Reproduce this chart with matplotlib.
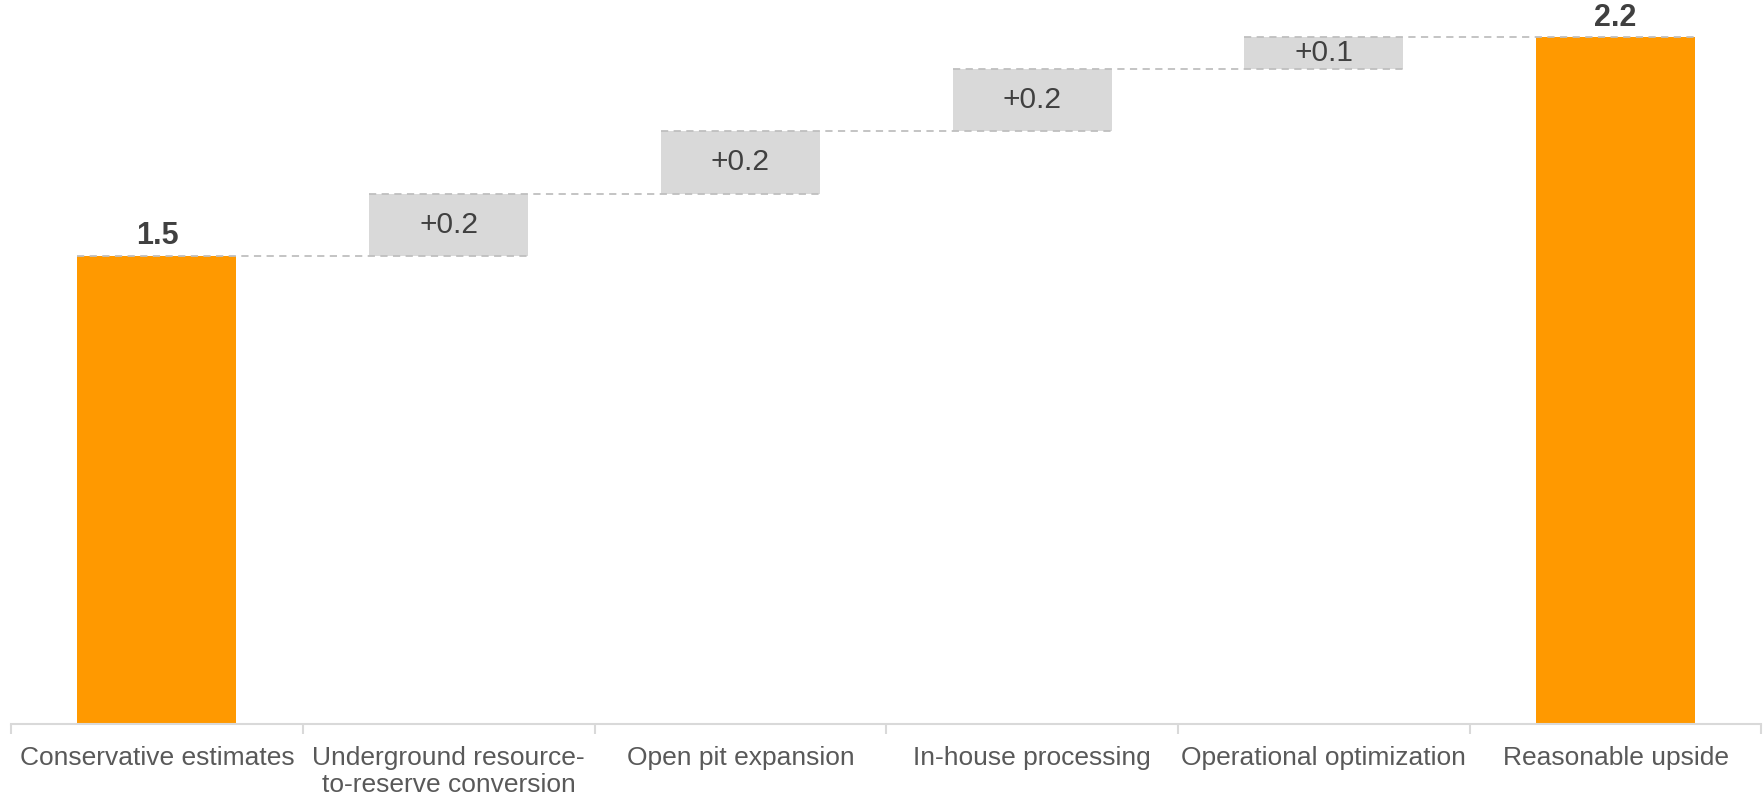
import numpy as np
import matplotlib.pyplot as plt

plt.rcParams['font.family'] = ['Liberation Sans', 'DejaVu Sans']

# Data
categories = ['Conservative estimates', 'Underground resource-\nto-reserve conversion',
              'Open pit expansion', 'In-house processing', 'Operational optimization',
              'Reasonable upside']
start_value = 1.5
steps = [0.2, 0.2, 0.2, 0.1]
end_value = 2.2

ORANGE = '#ff9900'
GREY_BOX = '#d9d9d9'
TEXT = '#404040'

fig = plt.figure(figsize=(17.65, 8.02), dpi=100)
ax = fig.add_axes([0.0063, 0.097, 0.9917, 0.903])

x = np.arange(len(categories))
w = 0.545

# bottoms / heights
bottoms = [0]
heights = [start_value]
run = start_value
for s in steps:
    bottoms.append(run)
    heights.append(s)
    run += s
bottoms.append(0)
heights.append(end_value)
tops = [b + h for b, h in zip(bottoms, heights)]

colors = [ORANGE] + [GREY_BOX] * len(steps) + [ORANGE]
ax.bar(x, heights, bottom=bottoms, width=w, color=colors, zorder=2)

# connectors
for i in range(len(x) - 1):
    ax.plot([x[i] - w / 2, x[i + 1] + w / 2], [tops[i], tops[i]],
            color='#bfbfbf', lw=1.3, ls=(0, (4, 3)), zorder=3)

# labels
ax.text(x[0], tops[0] + 0.015, f'{start_value:.1f}', ha='center', va='bottom',
        fontsize=22, fontweight='bold', color=TEXT)
ax.text(x[-1], tops[-1] + 0.015, f'{end_value:.1f}', ha='center', va='bottom',
        fontsize=22, fontweight='bold', color=TEXT)
for i, s in enumerate(steps, start=1):
    ax.text(x[i], bottoms[i] + s / 2, f'+{s:.1f}', ha='center', va='center',
            fontsize=21.5, color=TEXT, zorder=4)

ax.set_xlim(-0.5, len(x) - 0.5)
ax.set_ylim(0, 2.32)
ax.set_yticks([])
for sp in ['top', 'right', 'left']:
    ax.spines[sp].set_visible(False)
ax.spines['bottom'].set_color('#d9d9d9')
ax.spines['bottom'].set_linewidth(1.5)

ax.set_xticks(x)
ax.set_xticklabels(categories, fontsize=19, color='#595959', linespacing=1.12)
ax.tick_params(axis='x', which='major', length=0, pad=16)
ax.set_xticks(np.arange(-0.5, len(x)), minor=True)
ax.tick_params(axis='x', which='minor', length=7, color='#d9d9d9', width=1.5)

fig.savefig('out.png', dpi=100)
